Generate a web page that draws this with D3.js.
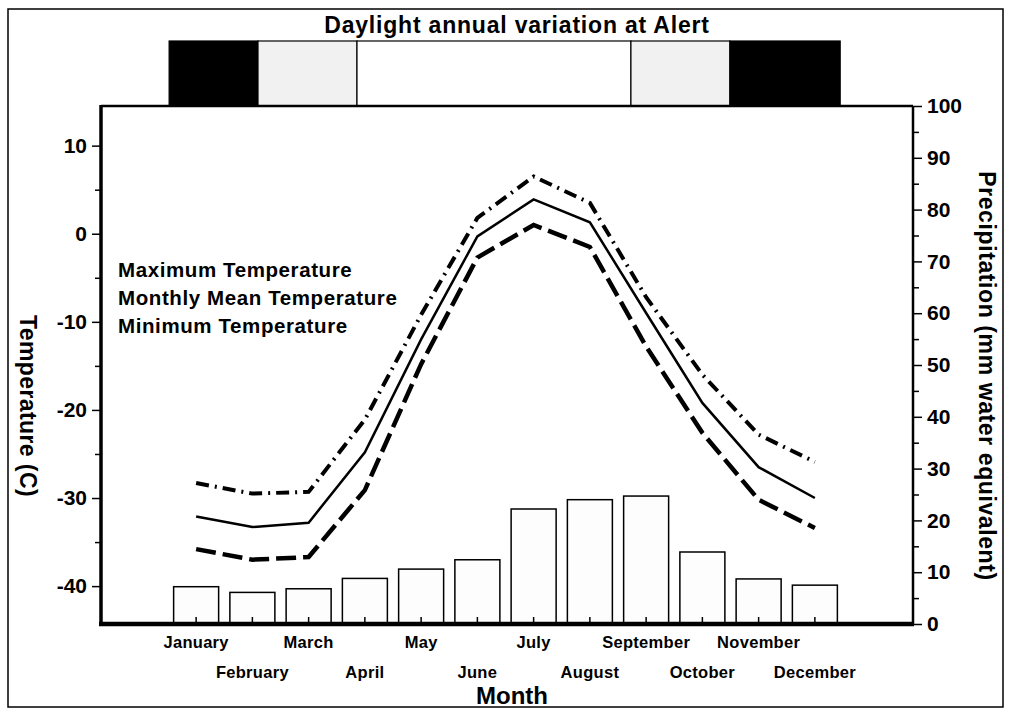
<!DOCTYPE html>
<html><head>
<meta charset="utf-8">
<script src="https://d3js.org/d3.v7.min.js"></script>
<style>
body { margin: 0; background: white; }
svg text { font-family: "Liberation Sans", Arial, sans-serif; font-weight: bold; fill: black; }
.axis path { display: none; }
.axis line { stroke: black; stroke-width: 1.5px; }
</style>
</head><body>
<svg id="chart" width="1009" height="713"></svg>
<script>
var months = ["January","February","March","April","May","June","July","August","September","October","November","December"];
var tMax  = [-28.3,-29.5,-29.3,-21.1,-9.2,1.8,6.5,3.5,-7.2,-16.0,-22.8,-25.9];
var tMean = [-32.1,-33.3,-32.8,-24.8,-12.0,-0.3,3.9,1.3,-9.0,-19.2,-26.5,-30.0];
var tMin  = [-35.8,-37.0,-36.7,-29.1,-14.8,-2.7,1.0,-1.5,-12.8,-22.6,-30.2,-33.4];
var precip = [7.2,6.1,6.8,8.8,10.6,12.4,22.2,24.0,24.7,13.9,8.7,7.5];
var tempTicks = [-40,-30,-20,-10,0,10];
var precipTicks = [0,10,20,30,40,50,60,70,80,90,100];
// daylight bar, in month units from the start of January
var dayBreaks = [0.02, 1.6, 3.36, 8.23, 9.99, 11.95];
var dayKinds = ["night","twilight","day","twilight","night"];
var legendLabels = ["Maximum Temperature","Monthly Mean Temperature","Minimum Temperature"];

var pL = 101, pR = 913, pT = 106, pB = 624;
var svg = d3.select("#chart");

// outer frame
svg.append("rect").attr("x",8).attr("y",9).attr("width",995).attr("height",698)
    .attr("fill","none").attr("stroke","black").attr("stroke-width",1.5);

var x = d3.scaleBand().domain(months).range([168,843]).paddingInner(0.2).paddingOuter(0.1);
var xm = d3.scaleLinear().domain([0,12]).range([168,843]);
var yT = d3.scaleLinear().domain([-44.3,14.5]).range([pB,pT]);
var yP = d3.scaleLinear().domain([0,100]).range([pB,pT]);

// daylight strip
var kindFill = {night:"black", twilight:"#f1f1f1", day:"white"};
svg.append("text").attr("x",517).attr("y",33).attr("text-anchor","middle")
    .style("font-size","23px").style("letter-spacing","0.8px").text("Daylight annual variation at Alert");
svg.selectAll(".day").data(dayKinds).enter().append("rect")
    .attr("x",function(d,i){ return xm(dayBreaks[i]); })
    .attr("y",41)
    .attr("width",function(d,i){ return xm(dayBreaks[i+1]) - xm(dayBreaks[i]); })
    .attr("height",pT-41)
    .attr("fill",function(d){ return kindFill[d]; })
    .attr("stroke","black").attr("stroke-width",1.2);

// precipitation bars
svg.selectAll(".bar").data(precip).enter().append("rect")
    .attr("x",function(d,i){ return x(months[i]); })
    .attr("y",function(d){ return yP(d); })
    .attr("width",x.bandwidth())
    .attr("height",function(d){ return pB - yP(d); })
    .attr("fill","#fdfdfd").attr("stroke","black").attr("stroke-width",1.5);

// frame
svg.append("line").attr("x1",pL).attr("x2",pR).attr("y1",pT).attr("y2",pT).attr("stroke","black").attr("stroke-width",2.5);
svg.append("line").attr("x1",pR).attr("x2",pR).attr("y1",pT).attr("y2",pB).attr("stroke","black").attr("stroke-width",2.5);
svg.append("line").attr("x1",pL).attr("x2",pL).attr("y1",pT-1).attr("y2",pB+2).attr("stroke","black").attr("stroke-width",3.5);

// left axis
var minorT = d3.range(-40,15,5).filter(function(v){ return v % 10 !== 0; });
svg.append("g").attr("class","axis").attr("transform","translate("+pL+",0)")
    .call(d3.axisLeft(yT).tickValues(minorT).tickSize(6).tickFormat(""));
var gl = svg.append("g").attr("class","axis").attr("transform","translate("+pL+",0)")
    .call(d3.axisLeft(yT).tickValues(tempTicks).tickSize(9).tickPadding(5).tickFormat(function(d){ return String(d); }));
gl.selectAll("text").style("font-size","21px").attr("font-family",null);

// right axis
var minorP = d3.range(5,100,10);
svg.append("g").attr("class","axis").attr("transform","translate("+pR+",0)")
    .call(d3.axisRight(yP).tickValues(minorP).tickSize(6).tickFormat(""));
var gr = svg.append("g").attr("class","axis").attr("transform","translate("+pR+",0)")
    .call(d3.axisRight(yP).tickValues(precipTicks).tickSize(9).tickPadding(5));
gr.selectAll("text").style("font-size","21px").attr("font-family",null);

// bottom axis with inward ticks and staggered labels
var gb = svg.append("g").attr("class","axis").attr("transform","translate(0,"+pB+")")
    .call(d3.axisBottom(x).tickSize(-7));
gb.selectAll("text").style("font-size","16.5px").style("letter-spacing","0.3px").attr("font-family",null)
    .attr("dy",0)
    .attr("y",function(d,i){ return i % 2 ? 54 : 24; });
svg.append("line").attr("x1",pL-2).attr("x2",pR+1).attr("y1",pB).attr("y2",pB).attr("stroke","black").attr("stroke-width",4.5);

// temperature lines
var line = d3.line()
    .x(function(d,i){ return x(months[i]) + x.bandwidth()/2; })
    .y(function(d){ return yT(d); });
svg.append("path").datum(tMax).attr("d",line).attr("fill","none").attr("stroke","black")
    .attr("stroke-width",4).attr("stroke-dasharray","13,6,2,6");
svg.append("path").datum(tMean).attr("d",line).attr("fill","none").attr("stroke","black")
    .attr("stroke-width",2.5);
svg.append("path").datum(tMin).attr("d",line).attr("fill","none").attr("stroke","black")
    .attr("stroke-width",4.5).attr("stroke-dasharray","20,7");

// legend
svg.selectAll(".leg").data(legendLabels).enter().append("text")
    .attr("x",118).attr("y",function(d,i){ return 277 + i*28; })
    .style("font-size","20.5px").style("letter-spacing","0.6px").text(function(d){ return d; });

// axis titles
svg.append("text").attr("x",512).attr("y",704).attr("text-anchor","middle")
    .style("font-size","24px").text("Month");
svg.append("text").attr("transform","translate(20,406) rotate(90)").attr("text-anchor","middle")
    .style("font-size","23px").style("letter-spacing","0.4px").text("Temperature (C)");
svg.append("text").attr("transform","translate(979,376) rotate(90)").attr("text-anchor","middle")
    .style("font-size","23px").style("letter-spacing","0.6px").text("Precipitation (mm water equivalent)");
</script>
</body></html>
